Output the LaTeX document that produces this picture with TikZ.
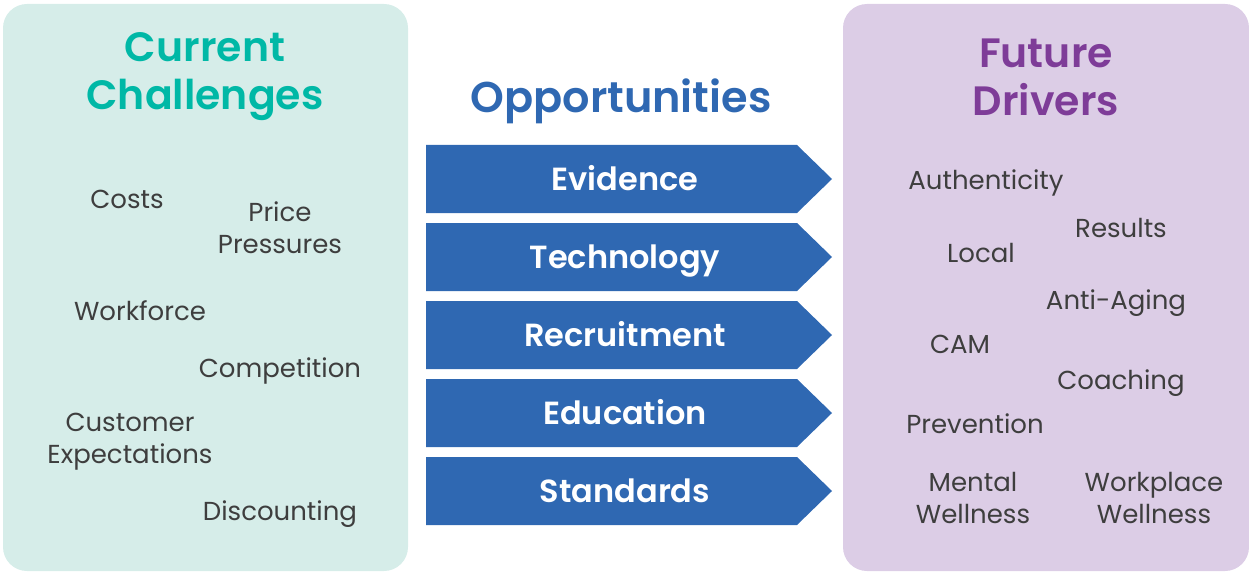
\documentclass[tikz,border=0pt]{standalone}
\usepackage{fontspec}
\setmainfont{Poppins}
\newfontfamily\headfont{Poppins SemiBold}
\definecolor{leftbg}{HTML}{D6EDE9}
\definecolor{rightbg}{HTML}{DCCDE6}
\definecolor{teal}{HTML}{00B8A6}
\definecolor{purp}{HTML}{7E3C98}
\definecolor{oppblue}{HTML}{2F68B2}
\definecolor{txt}{HTML}{3E3E3E}
\begin{document}
\begin{tikzpicture}[x=1pt,y=-1pt,
  panel/.style={rounded corners=24pt},
  head/.style={font=\headfont\fontsize{41}{48}\selectfont, align=center, inner sep=0pt},
  item/.style={font=\fontsize{26}{32}\selectfont, text=txt, align=center, inner sep=0pt},
  chev/.style={fill=oppblue},
  chevtxt/.style={font=\headfont\fontsize{32}{36}\selectfont, text=white, inner sep=0pt, anchor=base}]
\useasboundingbox (0,0) rectangle (1249,572);
\fill[leftbg, panel] (3,4) rectangle (408,571);
\fill[rightbg, panel] (843,4) rectangle (1249,571);
\node[head, text=teal] (ch) at (205,77) {Current\\Challenges};
\node[head, text=purp] (fd) at (1046,77) {Future\\Drivers};
\node[head, text=oppblue, font=\headfont\fontsize{43}{48}\selectfont] (op) at (621,101) {Opportunities};
\foreach \name/\lab [count=\i from 0] in {ev/Evidence,te/Technology,re/Recruitment,ed/Education,st/Standards}{
  \pgfmathsetmacro{\top}{145+78*\i}
  \fill[chev] (426,\top) -- (797,\top) -- (832,\top+34) -- (797,\top+68) -- (426,\top+68) -- cycle;
  \node[chevtxt] (\name) at (625,\top+45.5) {\lab};
}
\node[item] (costs) at (127,199) {Costs};
\node[item] (price) at (280,228) {Price\\Pressures};
\node[item] (work) at (140,311) {Workforce};
\node[item] (comp) at (280,371) {Competition};
\node[item] (cust) at (130,442) {Customer\\Expectations};
\node[item] (disc) at (280,514) {Discounting};
\node[item] (auth) at (986,183) {Authenticity};
\node[item] (res) at (1121,228) {Results};
\node[item] (loc) at (981,253) {Local};
\node[item] (anti) at (1116,303) {Anti-Aging};
\node[item] (cam) at (960,344) {CAM};
\node[item] (coach) at (1121,383) {Coaching};
\node[item] (prev) at (975,424) {Prevention};
\node[item] (ment) at (973,498) {Mental\\Wellness};
\node[item] (wp) at (1154,498) {Workplace\\Wellness};
\end{tikzpicture}
\end{document}
